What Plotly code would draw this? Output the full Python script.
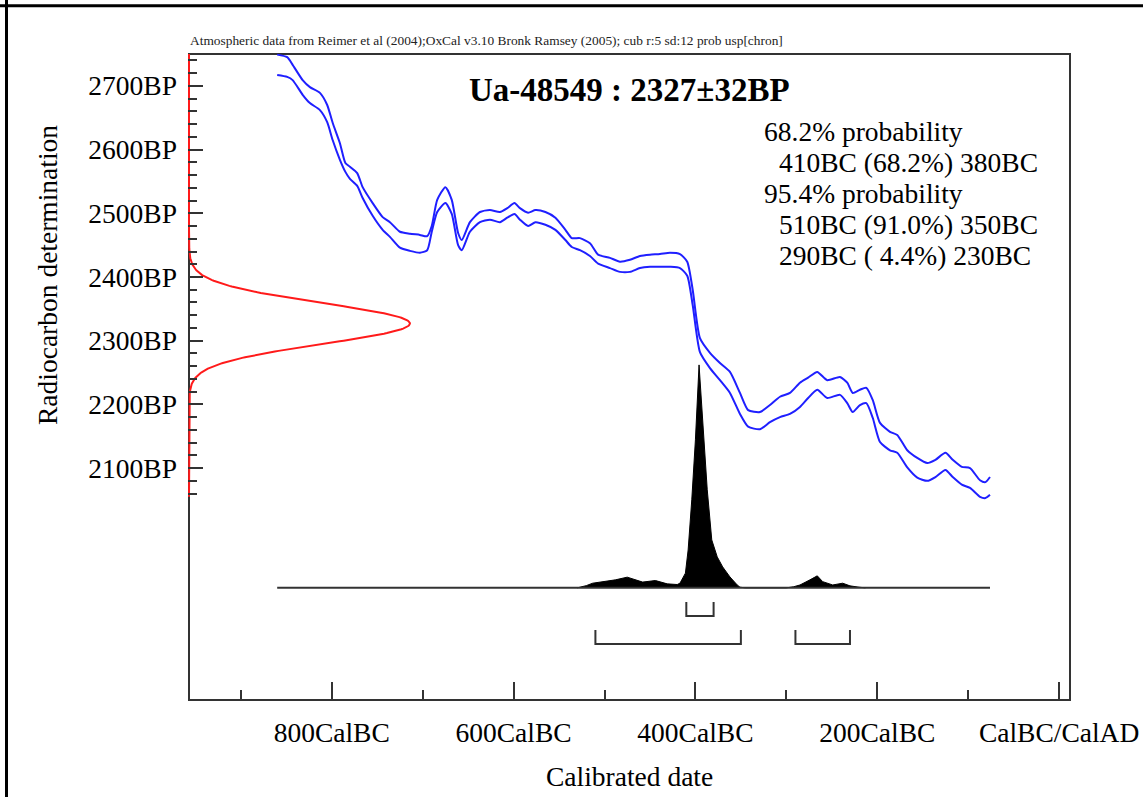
import numpy as np
import plotly.graph_objects as go

# ---- calibration curve band (IntCal04), calendar year (negative = BC) vs BP
curve_years = [-860, -849, -843, -832, -824, -813, -805, -799, -791, -785, -780,
               -772, -766, -755, -744, -736, -725, -714, -703, -695, -690, -684,
               -675, -668, -661, -657, -648, -637, -626, -615, -607, -599, -593,
               -584, -576, -565, -554, -543, -536, -527, -516, -507, -494, -483,
               -472, -461, -450, -439, -428, -417, -409, -403, -395, -384, -373,
               -362, -351, -342, -329, -318, -307, -296, -285, -276, -266, -255,
               -241, -233, -227, -219, -212, -205, -197, -186, -178, -167, -156,
               -145, -136, -125, -117, -107, -98, -87, -81, -76]
curve_upper = [2749, 2745, 2733, 2709, 2698, 2689, 2670, 2642, 2610, 2579, 2573,
               2563, 2541, 2516, 2494, 2486, 2471, 2468, 2466, 2464, 2480, 2521,
               2541, 2521, 2469, 2458, 2486, 2502, 2505, 2502, 2508, 2516, 2508,
               2501, 2505, 2502, 2493, 2474, 2461, 2461, 2453, 2435, 2430, 2424,
               2427, 2433, 2435, 2436, 2438, 2436, 2424, 2380, 2304, 2281, 2265,
               2251, 2218, 2191, 2188, 2199, 2212, 2218, 2234, 2242, 2251, 2238,
               2243, 2234, 2218, 2223, 2226, 2207, 2171, 2157, 2152, 2128, 2116,
               2108, 2113, 2124, 2113, 2102, 2100, 2081, 2078, 2086]
curve_lower = [2717, 2714, 2709, 2686, 2673, 2662, 2643, 2615, 2584, 2565, 2554,
               2543, 2524, 2496, 2474, 2463, 2446, 2441, 2438, 2442, 2471, 2502,
               2516, 2499, 2450, 2442, 2471, 2486, 2490, 2486, 2493, 2499, 2490,
               2480, 2486, 2482, 2474, 2458, 2447, 2442, 2433, 2421, 2414, 2408,
               2408, 2414, 2416, 2416, 2416, 2414, 2402, 2356, 2282, 2257, 2238,
               2218, 2185, 2165, 2161, 2172, 2180, 2185, 2196, 2210, 2223, 2210,
               2215, 2202, 2188, 2199, 2202, 2179, 2141, 2128, 2124, 2101, 2085,
               2080, 2086, 2097, 2086, 2074, 2069, 2055, 2053, 2058]

# ---- calibrated date probability (relative, peak = 1)
prob_years = [-530, -520, -513, -502, -488, -475, -466, -458, -444, -431, -420,
              -417, -411, -408, -404, -400, -396, -392, -387, -382, -376, -370,
              -362, -354, -351, -345, -300, -292, -285, -274, -266, -260, -249,
              -238, -230, -220, -213]
prob_values = [0.0, 0.010, 0.021, 0.028, 0.036, 0.048, 0.036, 0.026, 0.033, 0.018,
               0.015, 0.021, 0.066, 0.170, 0.395, 0.664, 1.0, 0.740, 0.440, 0.215,
               0.139, 0.094, 0.049, 0.013, 0.003, 0.0, 0.0, 0.005, 0.013, 0.036,
               0.054, 0.028, 0.013, 0.021, 0.009, 0.003, 0.0]

# ---- radiocarbon measurement
SAMPLE = "Ua-48549"
BP_MEAN, BP_SD = 2327, 32

# ---- highest probability ranges (calendar years, BC negative)
range68 = [(-410, -380)]
range95 = [(-510, -350), (-290, -230)]
summary_lines = ["68.2% probability",
                 "  410BC (68.2%) 380BC",
                 "95.4% probability",
                 "  510BC (91.0%) 350BC",
                 "  290BC ( 4.4%) 230BC"]

# ---- axes
x_tick_vals = [-800, -600, -400, -200, 0]
x_tick_text = ["800CalBC", "600CalBC", "400CalBC", "200CalBC", "CalBC/CalAD"]
x_minor_vals = [-900, -700, -500, -300, -100]
y_tick_vals = [2100, 2200, 2300, 2400, 2500, 2600, 2700]
y_tick_text = ["2100BP", "2200BP", "2300BP", "2400BP", "2500BP", "2600BP", "2700BP"]
y_minor_vals = [v for v in range(2060, 2741, 20) if v % 100]

# ---- frame geometry
X0, X1 = -957, 12          # calendar extent of the frame
Y0, Y1 = 1736, 2750        # BP extent of the frame
W, H = 1143, 797
L, R, T, B = 188, 1071, 53, 701   # plot area in pixels
xpad = (X1 - X0) / (R - L - 2)
ypad = (Y1 - Y0) / (B - T - 2)

FONT = "Liberation Serif, Times New Roman, serif"
INK = "#333333"
BLUE = "#1f1fff"

PROB_BASE = 1912     # BP level of the probability baseline
PROB_HEIGHT = 350    # BP span of the tallest probability value
GAUSS_WIDTH = 243    # calendar-year span of the measurement curve peak
BR68 = (1890, 1868)
BR95 = (1846, 1824)


def px(xp):
    return (xp - L) / (R - L)


def py(yp):
    return (B - yp) / (B - T)


fig = go.Figure()

# calibration band
for band in (curve_upper, curve_lower):
    fig.add_trace(go.Scatter(x=curve_years, y=band, mode="lines",
                             line=dict(color=BLUE, width=2, shape="spline", smoothing=0.6),
                             hoverinfo="skip"))

# measurement distribution on the BP axis
bp = np.arange(2055, Y1 + 1, 1.0)
dens = np.exp(-0.5 * ((bp - BP_MEAN) / BP_SD) ** 2)
fig.add_trace(go.Scatter(x=X0 + dens * GAUSS_WIDTH, y=bp, mode="lines",
                         line=dict(color="#ff1a1a", width=2), hoverinfo="skip"))

# calibrated probability distribution
px_poly = [prob_years[0]] + prob_years + [prob_years[-1]]
py_poly = [PROB_BASE] + [PROB_BASE + v * PROB_HEIGHT for v in prob_values] + [PROB_BASE]
fig.add_trace(go.Scatter(x=px_poly, y=py_poly, mode="lines", fill="toself",
                         fillcolor="black", line=dict(color="black", width=1),
                         hoverinfo="skip"))
fig.add_trace(go.Scatter(x=[curve_years[0], curve_years[-1]], y=[PROB_BASE, PROB_BASE],
                         mode="lines", line=dict(color=INK, width=2), hoverinfo="skip"))

# range brackets
for ranges, (top, bot) in ((range68, BR68), (range95, BR95)):
    bx, by = [], []
    for a, b in ranges:
        bx += [a, a, b, b, None]
        by += [top, bot, bot, top, None]
    fig.add_trace(go.Scatter(x=bx, y=by, mode="lines",
                             line=dict(color=INK, width=2), hoverinfo="skip"))

shapes = [
    dict(type="rect", xref="x", yref="y", x0=X0, x1=X1, y0=Y0, y1=Y1,
         line=dict(color=INK, width=2), layer="below"),
    # outer page border
    dict(type="line", xref="paper", yref="paper", x0=px(0), x1=px(W),
         y0=py(5.7), y1=py(5.7), line=dict(color="black", width=3)),
    dict(type="line", xref="paper", yref="paper", x0=px(6.5), x1=px(6.5),
         y0=py(0), y1=py(H), line=dict(color="black", width=3)),
]

annotations = [
    dict(text="Atmospheric data from Reimer et al (2004);OxCal v3.10 Bronk Ramsey (2005); "
              "cub r:5 sd:12 prob usp[chron]",
         x=px(188), y=py(41), xanchor="left", yanchor="middle",
         font=dict(family=FONT, size=13.4, color="#222")),
    dict(text=f"<b>{SAMPLE} : {BP_MEAN}\u00b1{BP_SD}BP</b>",
         x=px(629), y=py(90), xanchor="center", yanchor="middle",
         font=dict(family=FONT, size=33, color="black")),
    dict(text="Calibrated date", x=px(629), y=py(776), xanchor="center", yanchor="middle",
         font=dict(family=FONT, size=27.5, color="black")),
    dict(text="Radiocarbon determination", x=px(47), y=py(275), xanchor="center",
         yanchor="middle", textangle=-90,
         font=dict(family=FONT, size=27.5, color="black")),
]
line_y = [131.7, 162.5, 194, 224.5, 255.5]
for txt, yy in zip(summary_lines, line_y):
    indent = txt.startswith(" ")
    annotations.append(dict(text=txt.strip(), x=px(777 if indent else 762), y=py(yy),
                            xanchor="left", yanchor="middle",
                            font=dict(family=FONT, size=27.5, color="black")))

for a in annotations:
    a.update(xref="paper", yref="paper", showarrow=False)

fig.update_layout(
    width=W, height=H,
    margin=dict(l=L, r=W - R, t=T, b=H - B, autoexpand=False),
    paper_bgcolor="white", plot_bgcolor="white",
    showlegend=False,
    shapes=shapes, annotations=annotations,
    xaxis=dict(range=[X0 - xpad, X1 + xpad], showline=False, showgrid=False,
               zeroline=False, automargin=False, ticks="inside", tickmode="array",
               tickvals=x_tick_vals, ticktext=x_tick_text,
               ticklen=19, tickwidth=2, tickcolor=INK, ticklabelstandoff=12,
               tickfont=dict(family=FONT, size=27.5, color="black"),
               minor=dict(tickmode="array", tickvals=x_minor_vals, ticks="inside",
                          ticklen=11, tickwidth=2, tickcolor=INK, showgrid=False)),
    yaxis=dict(range=[Y0 - ypad, Y1 + ypad], showline=False, showgrid=False,
               zeroline=False, automargin=False, ticks="inside", tickmode="array",
               tickvals=y_tick_vals, ticktext=y_tick_text,
               ticklen=15, tickwidth=2, tickcolor=INK, ticklabelstandoff=10,
               tickfont=dict(family=FONT, size=27.5, color="black"),
               minor=dict(tickmode="array", tickvals=y_minor_vals, ticks="inside",
                          ticklen=9, tickwidth=2, tickcolor=INK, showgrid=False)),
)

fig.write_html("out.html")
